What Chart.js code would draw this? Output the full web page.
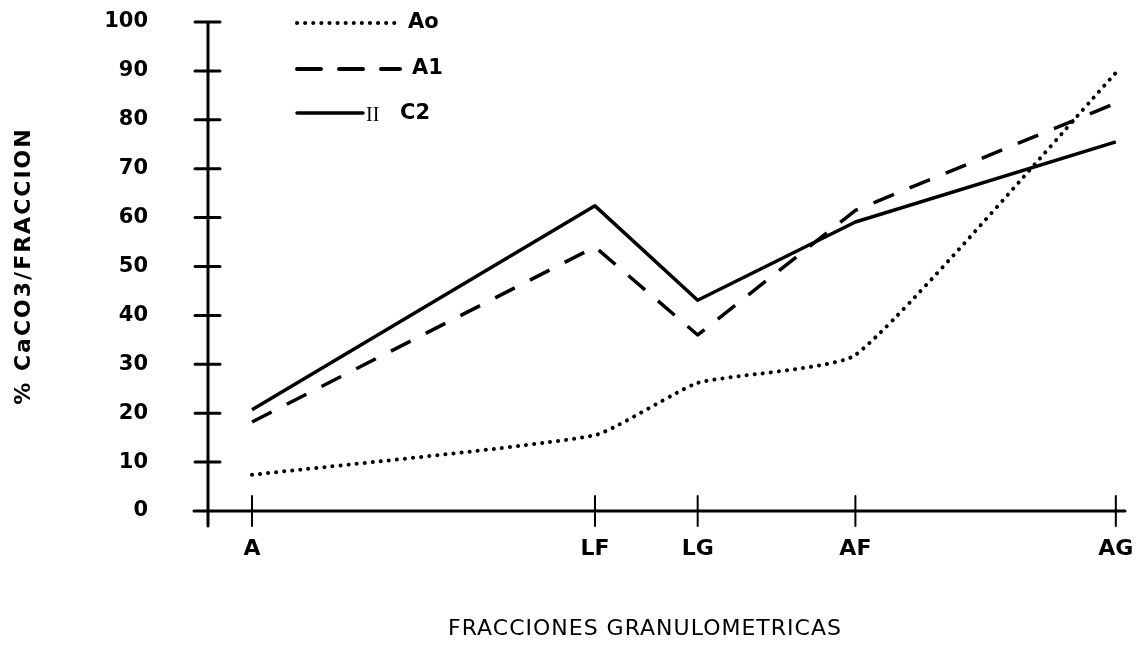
<!DOCTYPE html>
<html>
<head>
<meta charset="utf-8">
<script src="https://cdn.jsdelivr.net/npm/chart.js@4/dist/chart.umd.min.js"></script>
<style>
  html, body { margin: 0; padding: 0; background: #fff; }
  #wrap { width: 1140px; height: 666px; }
</style>
</head>
<body>
<div id="wrap"><canvas id="chart" width="1140" height="666"></canvas></div>
<script>
// fracciones granulometricas y su posicion en el eje
const categories = ['A', 'LF', 'LG', 'AF', 'AG'];
const positions = [4.8, 42.2, 53.4, 70.6, 99.0];

// % CaCO3 por fraccion
const aoValues = [7.4, 15.5, 26.2, 31.9, 89.6];
const a1Values = [18.2, 54.0, 36.0, 61.5, 83.4];
const c2Values = [20.7, 62.4, 43.1, 59.1, 75.5];

const yTicks = [0, 10, 20, 30, 40, 50, 60, 70, 80, 90, 100];

const toPoints = vals => vals.map((v, i) => ({ x: positions[i], y: v }));

// ejes dibujados como cruces, igual que el original
const axesPlugin = {
    id: 'axesCross',
    beforeDatasetsDraw(chart) {
        const ctx = chart.ctx;
        const xs = chart.scales.x, ys = chart.scales.y;
        const left = chart.chartArea.left;
        const y0 = ys.getPixelForValue(0);
        ctx.save();
        ctx.strokeStyle = '#000';
        ctx.lineWidth = 3;
        ctx.lineCap = 'round';
        ctx.beginPath();
        ctx.moveTo(left, ys.getPixelForValue(100));
        ctx.lineTo(left, y0 + 15);
        ctx.moveTo(left - 14, y0);
        ctx.lineTo(chart.chartArea.right, y0);
        yTicks.forEach(t => {
            const py = ys.getPixelForValue(t);
            ctx.moveTo(left - 13, py);
            ctx.lineTo(left + 12, py);
        });
        ctx.stroke();
        ctx.lineWidth = 2;
        ctx.beginPath();
        positions.forEach(p => {
            const px = xs.getPixelForValue(p);
            ctx.moveTo(px, y0 - 15);
            ctx.lineTo(px, y0 + 15);
        });
        ctx.stroke();
        ctx.restore();
    },
    afterDraw(chart) {
        const ctx = chart.ctx;
        ctx.save();
        ctx.fillStyle = '#000';
        // titulo eje x
        ctx.font = '22px "DejaVu Sans"';
        ctx.textAlign = 'center';
        ctx.textBaseline = 'middle';
        ctx.letterSpacing = '1px';
        ctx.fillText('FRACCIONES GRANULOMETRICAS', 645, 629);
        // titulo eje y
        ctx.translate(24, 266);
        ctx.rotate(-Math.PI / 2);
        ctx.font = 'bold 22px "DejaVu Sans"';
        ctx.letterSpacing = '2px';
        ctx.fillText('% CaCO3/FRACCION', 0, 0);
        ctx.restore();

        // leyenda
        const rows = [
            { dash: [0.1, 8], width: 4, len: 98, y: 23 },
            { dash: [24, 18], width: 4, len: 103, y: 69 },
            { dash: [], width: 3.5, len: 66, y: 113 }
        ];
        ctx.save();
        ctx.strokeStyle = '#000';
        ctx.fillStyle = '#000';
        ctx.textBaseline = 'middle';
        rows.forEach(r => {
            ctx.lineWidth = r.width;
            ctx.lineCap = 'round';
            ctx.setLineDash(r.dash);
            ctx.beginPath();
            ctx.moveTo(297, r.y);
            ctx.lineTo(297 + r.len, r.y);
            ctx.stroke();
        });
        ctx.setLineDash([]);
        ctx.font = 'bold 21px "DejaVu Sans"';
        ctx.fillText('Ao', 408, 23);
        ctx.fillText('A1', 412, 69);
        ctx.fillText('C2', 400, 114);
        ctx.font = '20px "Liberation Serif"';
        ctx.fillText('II', 366, 116);
        ctx.restore();
    }
};

const lineStyle = {
    borderColor: '#000',
    backgroundColor: '#000',
    pointRadius: 0,
    fill: false,
    borderJoinStyle: 'round'
};

new Chart(document.getElementById('chart'), {
    type: 'line',
    data: {
        datasets: [
            Object.assign({ label: 'Ao', data: toPoints(aoValues), borderWidth: 4,
                borderDash: [0.1, 8], borderCapStyle: 'round', tension: 0.15 }, lineStyle),
            Object.assign({ label: 'A1', data: toPoints(a1Values), borderWidth: 3.5,
                borderDash: [22, 17], tension: 0 }, lineStyle),
            Object.assign({ label: 'II C2', data: toPoints(c2Values), borderWidth: 3.5,
                tension: 0 }, lineStyle)
        ]
    },
    options: {
        responsive: false,
        animation: false,
        layout: { padding: { top: 22, right: 15, left: 0, bottom: 0 } },
        plugins: { legend: { display: false }, tooltip: { enabled: false } },
        scales: {
            x: {
                type: 'linear',
                min: 0, max: 100,
                afterBuildTicks: s => { s.ticks = positions.map(v => ({ value: v })); },
                afterFit: s => { s.height = 155; s.paddingLeft = 0; s.paddingRight = 0; },
                grid: { display: false, drawTicks: false },
                border: { display: false },
                ticks: {
                    autoSkip: false,
                    maxRotation: 0,
                    padding: 25,
                    color: '#000',
                    font: { family: 'DejaVu Sans', size: 22, weight: 'bold' },
                    callback: v => categories[positions.indexOf(v)] || ''
                }
            },
            y: {
                min: 0, max: 100,
                afterBuildTicks: s => { s.ticks = yTicks.map(v => ({ value: v })); },
                afterFit: s => { s.width = 208; s.paddingTop = 0; s.paddingBottom = 0; },
                grid: { display: false, drawTicks: false },
                border: { display: false },
                ticks: {
                    padding: 60,
                    color: '#000',
                    font: { family: 'DejaVu Sans', size: 21, weight: 'bold' }
                }
            }
        }
    },
    plugins: [axesPlugin]
});
</script>
</body>
</html>
